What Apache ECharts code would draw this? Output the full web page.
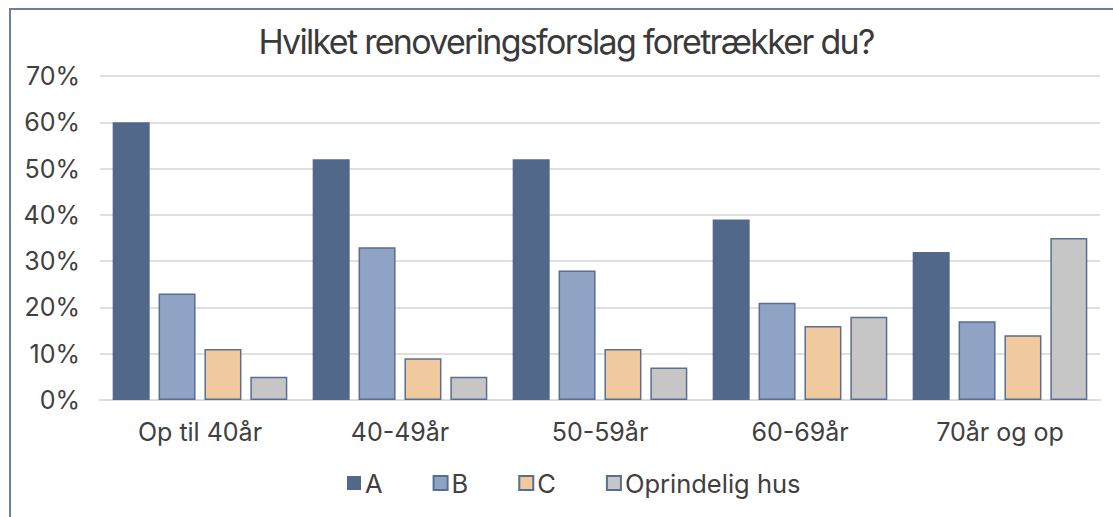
<!DOCTYPE html>
<html>
<head>
<meta charset="utf-8">
<script src="https://cdn.jsdelivr.net/npm/echarts@6/dist/echarts.min.js"></script>
<style>
  html, body { margin: 0; padding: 0; background: #fff; }
  #chart { width: 1113px; height: 517px; }
</style>
</head>
<body>
<div id="chart"></div>
<script>
const categories = ['Op til 40år', '40-49år', '50-59år', '60-69år', '70år og op'];
const seriesNames = ['A', 'B', 'C', 'Oprindelig hus'];
const valuesA = [60, 52, 52, 39, 32];
const valuesB = [23, 33, 28, 21, 17];
const valuesC = [11, 9, 11, 16, 14];
const valuesOrig = [5, 5, 7, 18, 35];
const yTicks = [0, 10, 20, 30, 40, 50, 60, 70];
const titleText = 'Hvilket renoveringsforslag foretrækker du?';

const fills = ['#52688a', '#8fa3c4', '#f0ca9e', '#c6c6c6'];
const edge = '#5a6e90';
const font = 'Inter, "Noto Sans", sans-serif';

const chart = echarts.init(document.getElementById('chart'), null, { renderer: 'svg' });

const allValues = [valuesA, valuesB, valuesC, valuesOrig];
const series = seriesNames.map((name, i) => ({
  name: name,
  type: 'bar',
  data: allValues[i],
  barWidth: 37,
  barGap: '24%',
  itemStyle: {
    color: fills[i],
    borderColor: i === 0 ? fills[0] : edge,
    borderWidth: i === 0 ? 0 : 1.5
  }
}));

chart.setOption({
  animation: false,
  title: {
    text: titleText,
    left: 561,
    textAlign: 'center',
    top: 19,
    textStyle: { fontFamily: font, fontSize: 34, fontWeight: 'normal', color: '#3a3a3a' }
  },
  graphic: [{
    type: 'rect',
    shape: { x: 10, y: 9, width: 1120, height: 530 },
    style: { fill: 'none', stroke: '#6b809f', lineWidth: 2 },
    silent: true
  }],
  legend: {
    data: seriesNames,
    bottom: 16,
    left: 342,
    itemWidth: 14,
    itemHeight: 14,
    itemGap: 50,
    icon: 'rect',
    textStyle: { fontFamily: font, fontSize: 25.5, color: '#404040', padding: [0, 0, 0, -1] }
  },
  grid: { left: 100, right: 13, top: 76, bottom: 117 },
  xAxis: {
    type: 'category',
    data: categories,
    axisTick: { show: false },
    axisLine: { lineStyle: { color: '#dcdcdc', width: 2 } },
    axisLabel: { fontFamily: font, fontSize: 25, color: '#404040', margin: 19 }
  },
  yAxis: {
    type: 'value',
    min: yTicks[0],
    max: yTicks[yTicks.length - 1],
    interval: 10,
    axisLabel: {
      fontFamily: font, fontSize: 25, color: '#404040', margin: 20,
      formatter: v => v + '%'
    },
    splitLine: { lineStyle: { color: '#e0e0e0', width: 2 } }
  },
  series: series
});

// tighten the title's tracking like the original
document.querySelectorAll('#chart svg text').forEach(t => {
  if (t.textContent === titleText) t.style.letterSpacing = '-1.7px';
});
</script>
</body>
</html>
